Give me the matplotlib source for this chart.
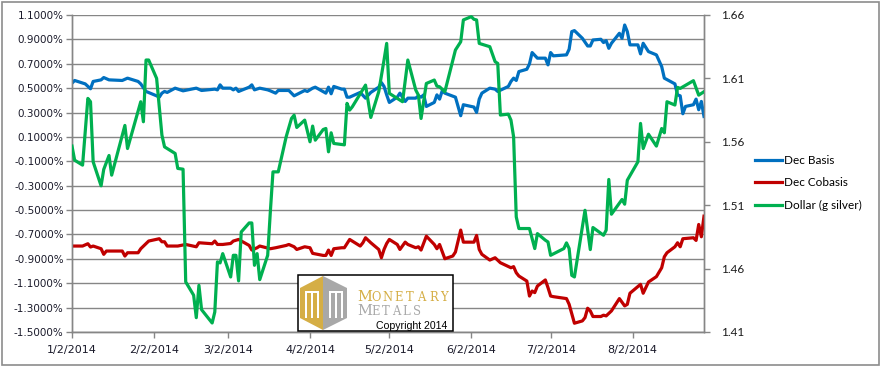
import matplotlib
matplotlib.use("Agg")
import matplotlib.pyplot as plt
import matplotlib.dates as mdates
from matplotlib.patches import Rectangle, Polygon
from matplotlib.ticker import FuncFormatter, FixedLocator
from datetime import datetime

# ---------------- data ----------------
basis_dates = ["01-02","01-03","01-07","01-09","01-10","01-13","01-14","01-16","01-21","01-23",
    "01-27","01-28","01-30","02-03","02-04","02-05","02-06","02-07","02-10","02-13","02-18","02-20",
    "02-25","02-26","02-27","02-28","03-03","03-04","03-05","03-06","03-10","03-11","03-12","03-14",
    "03-17","03-18","03-20","03-21","03-25","03-27","03-31","04-01","04-03","04-04","04-08","04-09",
    "04-10","04-11","04-14","04-15","04-16","04-17","04-21","04-23","04-25","04-28","04-29","04-30",
    "05-01","05-02","05-05","05-06","05-08","05-09","05-12","05-13","05-14","05-15","05-16","05-19",
    "05-20","05-21","05-22","05-23","05-27","05-29","05-30","06-02","06-03","06-04","06-05","06-06",
    "06-09","06-11","06-12","06-16","06-17","06-18","06-19","06-20","06-23","06-24","06-25","06-27",
    "06-30","07-01","07-02","07-03","07-08","07-09","07-10","07-11","07-14","07-16","07-17","07-18",
    "07-21","07-22","07-23","07-24","07-25","07-28","07-29","07-30","07-31","08-01","08-04","08-05",
    "08-06","08-08","08-11","08-13","08-14","08-18","08-19","08-20","08-21","08-22","08-25","08-26",
    "08-27","08-28","08-29"]
basis_vals = [0.541,0.563,0.535,0.495,0.555,0.568,0.587,0.568,0.563,0.582,
    0.555,0.535,0.473,0.437,0.426,0.459,0.473,0.465,0.500,0.478,0.500,0.481,
    0.492,0.486,0.527,0.500,0.500,0.486,0.500,0.473,0.508,0.527,0.486,0.500,
    0.486,0.478,0.459,0.481,0.481,0.437,0.481,0.473,0.500,0.508,0.459,0.508,
    0.454,0.514,0.492,0.492,0.426,0.426,0.465,0.418,0.465,0.508,0.546,0.514,
    0.445,0.383,0.426,0.459,0.391,0.418,0.418,0.437,0.426,0.445,0.350,0.383,
    0.445,0.410,0.478,0.459,0.426,0.274,0.364,0.350,0.345,0.301,0.410,0.459,
    0.500,0.492,0.473,0.514,0.555,0.582,0.563,0.636,0.655,0.699,0.792,0.746,
    0.746,0.691,0.792,0.765,0.773,0.819,0.964,0.972,0.909,0.846,0.846,0.895,
    0.901,0.874,0.890,0.827,0.868,0.950,0.909,1.018,0.964,0.855,0.855,0.781,
    0.868,0.800,0.773,0.677,0.582,0.535,0.445,0.437,0.290,0.350,0.364,0.410,
    0.323,0.391,0.268]

cobasis_dates = ["01-02","01-06","01-08","01-09","01-10","01-13","01-14","01-15","01-21","01-22",
    "01-23","01-27","01-28","01-31","02-04","02-05","02-06","02-07","02-11","02-14","02-18","02-19",
    "02-24","02-25","02-26","02-28","03-03","03-04","03-06","03-10","03-11","03-13","03-14","03-18",
    "03-20","03-24","03-25","03-27","03-28","03-31","04-02","04-03","04-07","04-08","04-09","04-10",
    "04-11","04-14","04-15","04-17","04-21","04-22","04-23","04-25","04-28","04-29","04-30","05-01",
    "05-02","05-05","05-06","05-08","05-09","05-12","05-13","05-14","05-16","05-19","05-20","05-21",
    "05-23","05-26","05-27","05-29","05-30","06-03","06-04","06-05","06-06","06-09","06-11","06-13",
    "06-17","06-18","06-19","06-20","06-23","06-24","06-25","06-26","06-27","06-30","07-01","07-02",
    "07-03","07-08","07-09","07-11","07-14","07-15","07-16","07-17","07-18","07-21","07-22","07-23",
    "07-25","07-28","07-30","07-31","08-01","08-05","08-06","08-08","08-11","08-13","08-14","08-15",
    "08-18","08-19","08-20","08-21","08-25","08-26","08-27","08-28","08-29"]
cobasis_vals = [-0.795,-0.795,-0.776,-0.803,-0.795,-0.817,-0.863,-0.836,-0.836,-0.877,
    -0.850,-0.850,-0.817,-0.754,-0.735,-0.760,-0.760,-0.795,-0.795,-0.782,-0.801,-0.768,
    -0.776,-0.754,-0.782,-0.782,-0.774,-0.754,-0.741,-0.790,-0.828,-0.809,-0.795,-0.817,
    -0.809,-0.790,-0.782,-0.801,-0.823,-0.801,-0.809,-0.855,-0.872,-0.872,-0.828,-0.872,
    -0.817,-0.809,-0.809,-0.741,-0.795,-0.768,-0.727,-0.768,-0.823,-0.891,-0.823,-0.774,
    -0.741,-0.782,-0.823,-0.763,-0.782,-0.809,-0.801,-0.828,-0.714,-0.782,-0.817,-0.782,
    -0.899,-0.877,-0.844,-0.664,-0.763,-0.763,-0.708,-0.823,-0.863,-0.910,-0.891,-0.932,
    -0.973,-0.964,-1.014,-1.041,-1.082,-1.205,-1.164,-1.177,-1.123,-1.073,-1.136,-1.205,
    -1.210,-1.226,-1.273,-1.428,-1.409,-1.382,-1.305,-1.327,-1.373,-1.373,-1.362,-1.368,
    -1.327,-1.226,-1.286,-1.273,-1.182,-1.109,-1.182,-1.090,-1.046,-0.973,-0.883,-0.850,
    -0.801,-0.768,-0.801,-0.735,-0.727,-0.749,-0.618,-0.719,-0.550]

dollar_dates = ["01-02","01-03","01-06","01-08","01-09","01-10","01-13","01-14","01-16","01-17",
    "01-22","01-23","01-28","01-29","01-30","01-31","02-03","02-05","02-06","02-10","02-11","02-13",
    "02-14","02-17","02-18","02-19","02-20","02-24","02-25","02-26","02-27","02-28","03-03","03-04",
    "03-05","03-06","03-07","03-10","03-11","03-12","03-13","03-14","03-17","03-18","03-19","03-21",
    "03-24","03-26","03-27","03-28","03-31","04-02","04-03","04-04","04-07","04-08","04-09","04-10",
    "04-11","04-15","04-16","04-17","04-18","04-23","04-25","04-28","04-30","05-01","05-02","05-05",
    "05-07","05-09","05-12","05-13","05-14","05-16","05-19","05-20","05-21","05-23","05-27","05-29",
    "05-30","06-02","06-03","06-04","06-05","06-09","06-11","06-12","06-13","06-16","06-17","06-18",
    "06-19","06-20","06-24","06-26","06-27","06-30","07-01","07-02","07-07","07-08","07-09","07-10",
    "07-11","07-15","07-17","07-18","07-22","07-23","07-24","07-25","07-29","07-30","07-31","08-04",
    "08-05","08-06","08-08","08-11","08-13","08-14","08-15","08-18","08-19","08-20","08-25","08-27",
    "08-29"]
dollar_vals = [1.5566,1.5455,1.5416,1.5942,1.5916,1.5442,1.5253,1.5382,1.5492,1.5337,
    1.5729,1.5547,1.5916,1.5758,1.6245,1.6245,1.6100,1.5653,1.5560,1.5508,1.5390,1.5384,
    1.4495,1.4390,1.4213,1.4468,1.4276,1.4171,1.4258,1.4653,1.4645,1.4718,1.4534,1.4705,
    1.4705,1.4503,1.4889,1.4960,1.4960,1.4626,1.4718,1.4513,1.4705,1.5047,1.5363,1.5363,
    1.5640,1.5784,1.5810,1.5713,1.5771,1.5600,1.5724,1.5613,1.5697,1.5705,1.5521,1.5671,
    1.5587,1.5576,1.5903,1.5850,1.5876,1.6047,1.5792,1.5995,1.6245,1.6376,1.5982,1.5942,
    1.5916,1.6245,1.6008,1.5968,1.5784,1.6060,1.6087,1.6039,1.6034,1.5995,1.6324,1.6389,
    1.6561,1.6587,1.6566,1.6561,1.6376,1.6350,1.6232,1.6218,1.5811,1.5818,1.5771,1.5639,
    1.5008,1.4916,1.4916,1.4758,1.4876,1.4824,1.4810,1.4705,1.4758,1.4803,1.4758,1.4547,
    1.4534,1.5060,1.4750,1.4924,1.4863,1.4903,1.5303,1.5029,1.5145,1.5108,1.5297,1.5442,
    1.5745,1.5547,1.5660,1.5566,1.5705,1.5671,1.5916,1.5890,1.6029,1.6021,1.6082,1.5968,
    1.5995]

series_names = ["Dec Basis", "Dec Cobasis", "Dollar (g silver)"]
series_colors = ["#0070C0", "#C00000", "#00B050"]
month_ticks = ["01-02","02-02","03-02","04-02","05-02","06-02","07-02","08-02"]
year = 2014

def to_dt(lst):
    return [datetime.strptime(f"{year}-{s}", "%Y-%m-%d") for s in lst]

# ---------------- figure ----------------
W, H = 881, 367
fig = plt.figure(figsize=(W/100, H/100), dpi=100)
fig.patch.set_facecolor("white")

L, R, T, B = 72, 704, 15, 332
ax = fig.add_axes([L/W, 1-B/H, (R-L)/W, (B-T)/H])
ax2 = ax.twinx()

grid_c = "#868686"
lw = 2.3
l1, = ax.plot(to_dt(basis_dates), basis_vals, color=series_colors[0], lw=lw,
              solid_joinstyle="round", zorder=3)
l2, = ax.plot(to_dt(cobasis_dates), cobasis_vals, color=series_colors[1], lw=lw,
              solid_joinstyle="round", zorder=3)
l3, = ax2.plot(to_dt(dollar_dates), dollar_vals, color=series_colors[2], lw=lw,
               solid_joinstyle="round", zorder=3)

ax.set_xlim(datetime(year, 1, 2), datetime(year, 8, 29))
ax.set_ylim(-1.5, 1.1)
ax2.set_ylim(1.41, 1.66)

yt = [round(-1.5 + 0.2*i, 1) for i in range(14)]
ax.yaxis.set_major_locator(FixedLocator(yt))
ax.yaxis.set_major_formatter(FuncFormatter(lambda v, p: f"{v:.4f}%".replace("\u2212", "-")))
ax2.yaxis.set_major_locator(FixedLocator([1.41, 1.46, 1.51, 1.56, 1.61, 1.66]))
ax2.yaxis.set_major_formatter(FuncFormatter(lambda v, p: f"{v:.2f}"))

xt = to_dt(month_ticks)
ax.xaxis.set_major_locator(FixedLocator(mdates.date2num(xt)))
ax.xaxis.set_major_formatter(FuncFormatter(
    lambda v, p: f"{mdates.num2date(v).month}/{mdates.num2date(v).day}/{mdates.num2date(v).year}"))

ax.grid(axis="y", color=grid_c, lw=1.0, zorder=0)
ax.set_axisbelow(True)
for a in (ax, ax2):
    a.spines["top"].set_visible(False)
    for s in ("left", "right", "bottom"):
        a.spines[s].set_color(grid_c)
        a.spines[s].set_linewidth(1.0)

ax.tick_params(axis="y", direction="out", length=4, width=1, color=grid_c, pad=2,
               labelsize=7.5, labelcolor="#1a1a2a")
ax.tick_params(axis="x", direction="out", length=4, width=1, color=grid_c, pad=5,
               labelsize=8, labelcolor="#1a1a2a")
ax2.tick_params(axis="y", direction="out", length=4, width=1, color=grid_c, pad=8,
                labelsize=8.5, labelcolor="#1a1a1a")
for lab in ax2.get_yticklabels():
    lab.set_fontfamily("Lato")

fig.legend([l1, l2, l3], series_names, loc="center left",
           bbox_to_anchor=(755/W, 1-183/H), frameon=False, borderpad=0, borderaxespad=0,
           handlelength=2.3, handletextpad=0.15, labelspacing=0.95,
           prop={"family": "Lato", "size": 8.5})

# ---------------- overlay: border + logo ----------------
ov = fig.add_axes([0, 0, 1, 1], zorder=10)
ov.set_xlim(0, W)
ov.set_ylim(H, 0)
ov.axis("off")
ov.patch.set_visible(False)
ov.add_patch(Rectangle((1.5, 1.5), W-4, H-4, fill=False, ec="#8c8c8c", lw=1.2))

ov.add_patch(Rectangle((298, 275), 155, 56, fc="white", ec="black", lw=1.1))
gold = "#D5AE45"
gray = "#A8A8A8"
ov.add_patch(Polygon([(323, 276), (300, 288), (300, 318), (323, 330)], closed=True, fc=gold, ec="none"))
ov.add_patch(Polygon([(323, 276), (347, 288), (347, 318), (323, 330)], closed=True, fc=gray, ec="none"))
for xs in (305, 311, 317, 329, 335, 341):
    ov.add_patch(Rectangle((xs, 291), 1.6, 27, fc="white", ec="none"))
ov.add_patch(Rectangle((305, 291), 13.6, 1.6, fc="white", ec="none"))
ov.add_patch(Rectangle((329, 291), 13.6, 1.6, fc="white", ec="none"))

serif = "DejaVu Serif"
word1 = "MONETARY"
x0 = 357
ov.text(x0, 301, word1[0], fontsize=10.5, family=serif, color=gold, va="baseline", ha="left")
for i, ch in enumerate(word1[1:]):
    ov.text(371 + i*11.6, 301, ch, fontsize=8.3, family=serif, color=gold, va="baseline", ha="left")
word2 = "METALS"
ov.text(x0, 315, word2[0], fontsize=10.5, family=serif, color=gray, va="baseline", ha="left")
for i, ch in enumerate(word2[1:]):
    ov.text(371 + i*10.4, 315, ch, fontsize=8.3, family=serif, color=gray, va="baseline", ha="left")
ov.text(376, 329, "Copyright 2014", fontsize=7.6, family="Liberation Sans", color="black",
        va="baseline", ha="left")

fig.savefig("out.png", dpi=100, facecolor="white")
